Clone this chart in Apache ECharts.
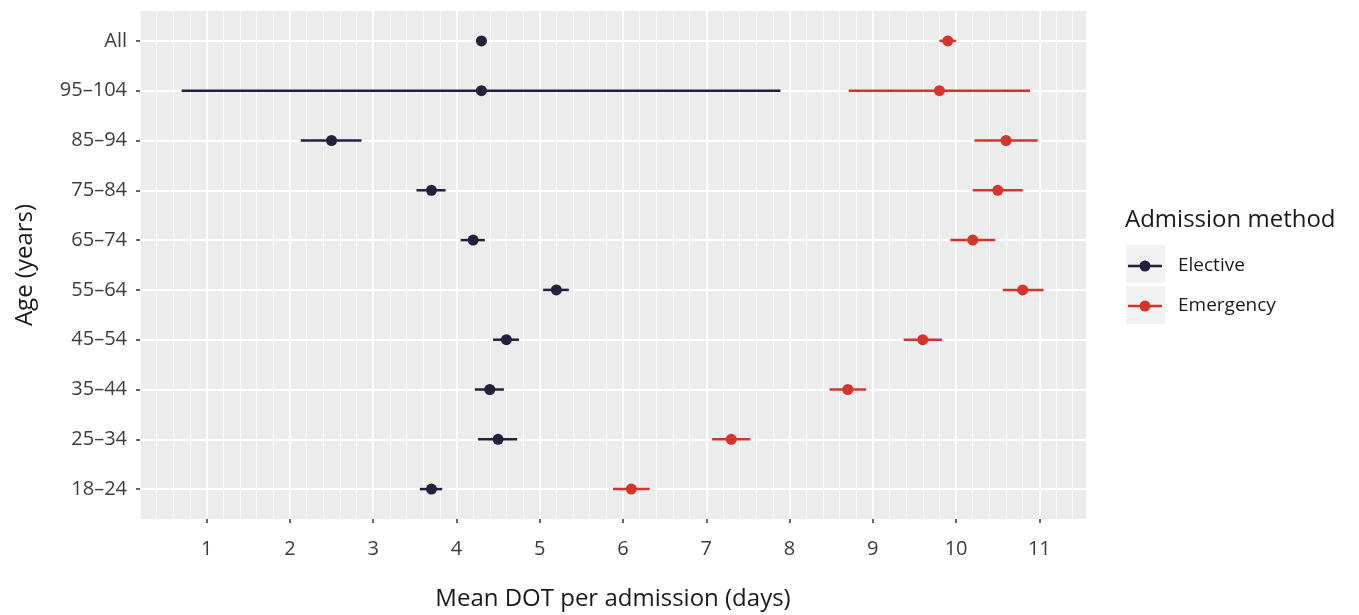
<!DOCTYPE html>
<html>
<head>
<meta charset="utf-8">
<script src="https://cdn.jsdelivr.net/npm/echarts@6/dist/echarts.min.js"></script>
<style>
  html, body { margin: 0; padding: 0; background: #fff; }
  #chart { width: 1359px; height: 615px; }
</style>
</head>
<body>
<div id="chart"></div>
<script>
// age groups, top to bottom
const categories = ['All', '95–104', '85–94', '75–84', '65–74', '55–64', '45–54', '35–44', '25–34', '18–24']

const electiveMean = [4.3, 4.3, 2.5, 3.7, 4.2, 5.2, 4.6, 4.4, 4.5, 3.7]
const electiveLow = [4.27, 0.7, 2.13, 3.52, 4.05, 5.04, 4.44, 4.22, 4.26, 3.56]
const electiveHigh = [4.33, 7.89, 2.86, 3.87, 4.34, 5.35, 4.75, 4.57, 4.73, 3.83]

const emergencyMean = [9.9, 9.8, 10.6, 10.5, 10.2, 10.8, 9.6, 8.7, 7.3, 6.1]
const emergencyLow = [9.8, 8.71, 10.22, 10.2, 9.93, 10.56, 9.37, 8.48, 7.07, 5.88]
const emergencyHigh = [10.0, 10.89, 10.98, 10.8, 10.47, 11.05, 9.83, 8.92, 7.53, 6.32]

const xTicks = [1, 2, 3, 4, 5, 6, 7, 8, 9, 10, 11]

const FONT = 'Open Sans'
const ELECTIVE = '#231F3C'
const EMERGENCY = '#D5342C'

function rows(low, high, mean) {
  return categories.map((c, i) => [low[i], high[i], mean[i], i])
}

function renderRange(params, api) {
  const lo = api.coord([api.value(0), api.value(3)])
  const hi = api.coord([api.value(1), api.value(3)])
  const mid = api.coord([api.value(2), api.value(3)])
  const color = api.visual('color')
  return {
    type: 'group',
    children: [
      {
        type: 'line',
        shape: { x1: lo[0], y1: lo[1], x2: hi[0], y2: hi[1] },
        style: { stroke: color, lineWidth: 2.5 }
      },
      {
        type: 'circle',
        shape: { cx: mid[0], cy: mid[1], r: 5.5 },
        style: { fill: color }
      }
    ]
  }
}

// line with a dot, as in the ggplot legend keys
const keyIcon = 'path://M0 4.25L34 4.25L34 6.75L0 6.75Z M11.5 5.5A5.5 5.5 0 1 1 22.5 5.5A5.5 5.5 0 1 1 11.5 5.5Z'

const chart = echarts.init(document.getElementById('chart'))

chart.setOption({
  animation: false,
  textStyle: { fontFamily: FONT },
  grid: {
    left: 140,
    right: 273,
    top: 11,
    bottom: 96,
    outerBoundsMode: 'none',
    containLabel: false,
    show: true,
    backgroundColor: '#EBECEB',
    borderWidth: 0
  },
  title: {
    text: 'Admission method',
    left: 1125,
    top: 208,
    padding: 0,
    textStyle: { fontFamily: FONT, fontSize: 24, fontWeight: 'normal', color: '#1a1a1a' }
  },
  graphic: [
    { type: 'rect', left: 1126, top: 245, z: 0, shape: { width: 39, height: 38 }, style: { fill: '#F2F2F3' } },
    { type: 'rect', left: 1126, top: 286, z: 0, shape: { width: 39, height: 38 }, style: { fill: '#F2F2F3' } }
  ],
  legend: {
    orient: 'vertical',
    left: 1128,
    top: 255,
    padding: 0,
    z: 5,
    itemWidth: 34,
    itemHeight: 11,
    itemGap: 18,
    icon: keyIcon,
    data: ['Elective', 'Emergency'],
    textStyle: {
      fontFamily: FONT,
      fontSize: 19,
      lineHeight: 22,
      color: '#1a1a1a',
      padding: [0, 0, 0, 11]
    }
  },
  xAxis: [
    {
      type: 'value',
      min: 0.2,
      max: 11.56,
      name: 'Mean DOT per admission (days)',
      nameLocation: 'middle',
      nameGap: 68,
      nameTextStyle: { fontFamily: FONT, fontSize: 24, color: '#1a1a1a' },
      axisLine: { show: false, onZero: false },
      axisTick: { show: true, length: 4, customValues: xTicks, lineStyle: { color: '#333', width: 1.5 } },
      axisLabel: { customValues: xTicks, margin: 20, fontSize: 20, color: '#3d3d3d', fontFamily: FONT },
      splitLine: { show: true, lineStyle: { color: '#fff', width: 2 } }
    },
    {
      // minor grid every 0.2
      type: 'value',
      min: 0.2,
      max: 11.56,
      interval: 0.2,
      position: 'top',
      axisLine: { show: false, onZero: false },
      axisTick: { show: false },
      axisLabel: { show: false },
      splitLine: { show: true, lineStyle: { color: '#FAFAFA', width: 1 } }
    }
  ],
  yAxis: {
    type: 'value',
    inverse: true,
    min: -0.6,
    max: 9.6,
    name: 'Age (years)',
    nameLocation: 'middle',
    nameGap: 103,
    nameTextStyle: { fontFamily: FONT, fontSize: 24, color: '#1a1a1a' },
    axisLine: { show: false, onZero: false },
    axisTick: { show: true, length: 4, customValues: categories.map((c, i) => i), lineStyle: { color: '#333', width: 1.5 } },
    axisLabel: {
      customValues: categories.map((c, i) => i),
      formatter: v => categories[v],
      margin: 13,
      fontSize: 20,
      color: '#3d3d3d',
      fontFamily: FONT
    },
    splitLine: { show: true, lineStyle: { color: '#fff', width: 2 } }
  },
  series: [
    {
      name: 'Elective',
      type: 'custom',
      renderItem: renderRange,
      itemStyle: { color: ELECTIVE },
      encode: { x: [0, 1, 2], y: 3 },
      data: rows(electiveLow, electiveHigh, electiveMean)
    },
    {
      name: 'Emergency',
      type: 'custom',
      renderItem: renderRange,
      itemStyle: { color: EMERGENCY },
      encode: { x: [0, 1, 2], y: 3 },
      data: rows(emergencyLow, emergencyHigh, emergencyMean)
    }
  ]
})
</script>
</body>
</html>
